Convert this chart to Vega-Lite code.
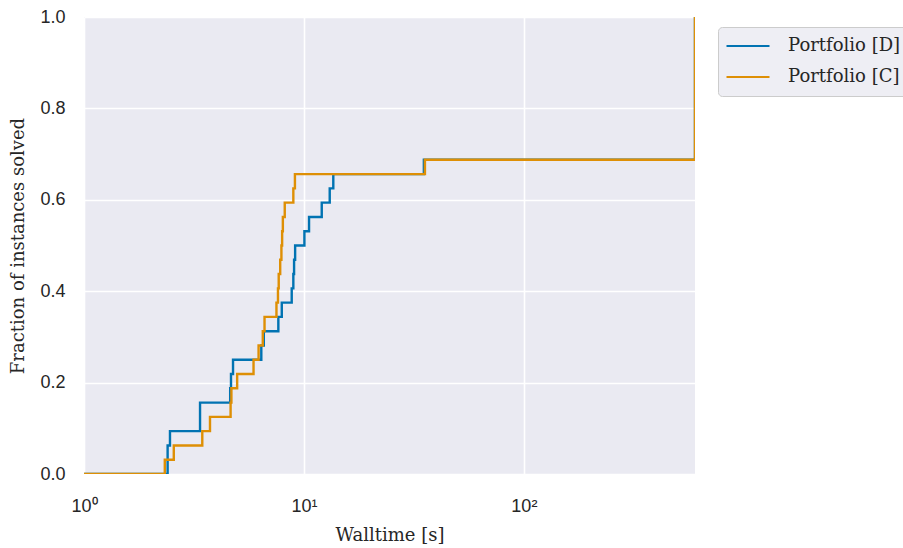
{
  "$schema": "https://vega.github.io/schema/vega-lite/v6.json",
  "width": 611,
  "height": 457,
  "autosize": {"type": "none"},
  "padding": {"left": 84, "top": 17, "right": 208, "bottom": 74},
  "background": "white",
  "config": {
    "view": {"fill": "#EAEAF2", "stroke": null},
    "axis": {
      "domain": false,
      "ticks": false,
      "gridColor": "white",
      "gridWidth": 1.6,
      "labelFont": "Liberation Sans",
      "labelFontSize": 18,
      "labelColor": "#262626",
      "labelFlush": false,
      "labelOverlap": false,
      "titleFont": "DejaVu Serif",
      "titleFontSize": 18,
      "titleFontWeight": "normal",
      "titleColor": "#262626"
    }
  },
  "data": {
    "values": [
      {"series": "Portfolio [D]", "t": 1, "frac": 0},
      {"series": "Portfolio [D]", "t": 2.40, "frac": 0.0625},
      {"series": "Portfolio [D]", "t": 2.46, "frac": 0.09375},
      {"series": "Portfolio [D]", "t": 3.37, "frac": 0.15625},
      {"series": "Portfolio [D]", "t": 4.62, "frac": 0.1875},
      {"series": "Portfolio [D]", "t": 4.66, "frac": 0.21875},
      {"series": "Portfolio [D]", "t": 4.76, "frac": 0.25},
      {"series": "Portfolio [D]", "t": 6.40, "frac": 0.28125},
      {"series": "Portfolio [D]", "t": 6.57, "frac": 0.3125},
      {"series": "Portfolio [D]", "t": 7.65, "frac": 0.34375},
      {"series": "Portfolio [D]", "t": 7.93, "frac": 0.375},
      {"series": "Portfolio [D]", "t": 8.80, "frac": 0.40625},
      {"series": "Portfolio [D]", "t": 8.95, "frac": 0.4375},
      {"series": "Portfolio [D]", "t": 9.02, "frac": 0.46875},
      {"series": "Portfolio [D]", "t": 9.12, "frac": 0.5},
      {"series": "Portfolio [D]", "t": 10.05, "frac": 0.53125},
      {"series": "Portfolio [D]", "t": 10.55, "frac": 0.5625},
      {"series": "Portfolio [D]", "t": 12.05, "frac": 0.59375},
      {"series": "Portfolio [D]", "t": 13.1, "frac": 0.625},
      {"series": "Portfolio [D]", "t": 13.6, "frac": 0.65625},
      {"series": "Portfolio [D]", "t": 35.1, "frac": 0.6875},
      {"series": "Portfolio [D]", "t": 600, "frac": 1.0},
      {"series": "Portfolio [C]", "t": 1, "frac": 0},
      {"series": "Portfolio [C]", "t": 2.33, "frac": 0.03125},
      {"series": "Portfolio [C]", "t": 2.56, "frac": 0.0625},
      {"series": "Portfolio [C]", "t": 3.45, "frac": 0.09375},
      {"series": "Portfolio [C]", "t": 3.74, "frac": 0.125},
      {"series": "Portfolio [C]", "t": 4.64, "frac": 0.15625},
      {"series": "Portfolio [C]", "t": 4.68, "frac": 0.1875},
      {"series": "Portfolio [C]", "t": 4.97, "frac": 0.21875},
      {"series": "Portfolio [C]", "t": 5.90, "frac": 0.25},
      {"series": "Portfolio [C]", "t": 6.22, "frac": 0.28125},
      {"series": "Portfolio [C]", "t": 6.50, "frac": 0.3125},
      {"series": "Portfolio [C]", "t": 6.62, "frac": 0.34375},
      {"series": "Portfolio [C]", "t": 7.50, "frac": 0.375},
      {"series": "Portfolio [C]", "t": 7.62, "frac": 0.40625},
      {"series": "Portfolio [C]", "t": 7.68, "frac": 0.4375},
      {"series": "Portfolio [C]", "t": 7.80, "frac": 0.46875},
      {"series": "Portfolio [C]", "t": 7.90, "frac": 0.5},
      {"series": "Portfolio [C]", "t": 7.96, "frac": 0.53125},
      {"series": "Portfolio [C]", "t": 8.02, "frac": 0.5625},
      {"series": "Portfolio [C]", "t": 8.18, "frac": 0.59375},
      {"series": "Portfolio [C]", "t": 8.95, "frac": 0.625},
      {"series": "Portfolio [C]", "t": 9.10, "frac": 0.65625},
      {"series": "Portfolio [C]", "t": 35.5, "frac": 0.6875},
      {"series": "Portfolio [C]", "t": 600, "frac": 1.0}
    ]
  },
  "mark": {"type": "line", "interpolate": "step-after", "strokeWidth": 2.4, "clip": true},
  "encoding": {
    "x": {
      "field": "t",
      "type": "quantitative",
      "scale": {"type": "log", "domain": [1, 600], "nice": false},
      "axis": {
        "values": [1, 10, 100],
        "labelExpr": "datum.value == 1 ? '10⁰' : datum.value == 10 ? '10¹' : '10²'",
        "title": "Walltime [s]",
        "labelPadding": 23,
        "titlePadding": 11
      }
    },
    "y": {
      "field": "frac",
      "type": "quantitative",
      "scale": {"domain": [0, 1], "nice": false},
      "axis": {
        "values": [0, 0.2, 0.4, 0.6, 0.8, 1],
        "format": ".1f",
        "title": "Fraction of instances solved",
        "labelPadding": 19,
        "titlePadding": 12
      }
    },
    "color": {
      "field": "series",
      "type": "nominal",
      "sort": null,
      "scale": {"domain": ["Portfolio [D]", "Portfolio [C]"], "range": ["#0173B2", "#DE8F05"]},
      "legend": {
        "orient": "none",
        "legendX": 634,
        "legendY": 10,
        "title": null,
        "symbolType": "stroke",
        "symbolStrokeWidth": 2.2,
        "symbolSize": 1849,
        "clipHeight": 24,
        "labelFont": "DejaVu Serif",
        "labelFontSize": 18,
        "labelColor": "#262626",
        "labelOffset": 17,
        "fillColor": "#EEEEF4",
        "strokeColor": "#CCCCCC",
        "cornerRadius": 4,
        "padding": 7,
        "rowPadding": 7
      }
    }
  }
}
